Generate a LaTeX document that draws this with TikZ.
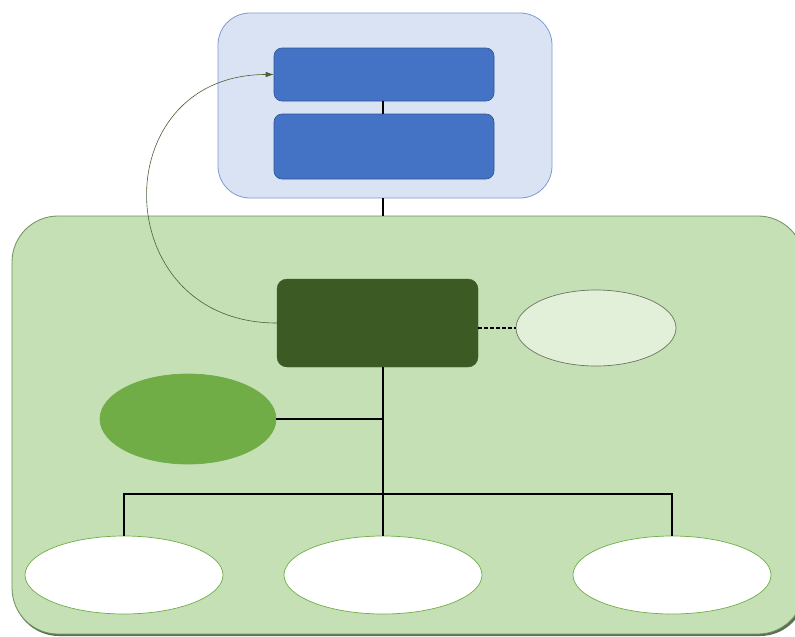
\documentclass[tikz,border=0pt]{standalone}
\usetikzlibrary{shapes.geometric,arrows.meta}
\definecolor{paleblue}{HTML}{DAE3F3}
\definecolor{paleblueline}{HTML}{7E9BCF}
\definecolor{midblue}{HTML}{4472C4}
\definecolor{midblueline}{HTML}{2F5597}
\definecolor{palegreen}{HTML}{C5E0B4}
\definecolor{palegreenline}{HTML}{6E8F5C}
\definecolor{shadowgreen}{HTML}{5E6E55}
\definecolor{darkgreen}{HTML}{3B5A24}
\definecolor{leafgreen}{HTML}{70AD47}
\definecolor{mintgreen}{HTML}{E2F0D9}
\tikzset{
  panel/.style={draw, line width=0.8pt, rounded corners=32pt},
  bluebar/.style={draw=midblueline, fill=midblue, line width=0.6pt, rounded corners=8pt, minimum width=220pt},
  oval/.style={ellipse, draw, line width=0.7pt, inner sep=0pt},
  link/.style={line width=2pt, black},
  dashlink/.style={line width=1.3pt, black, dashed, dash pattern=on 4pt off 2pt},
  flowarrow/.style={line width=0.6pt, draw=darkgreen!80!gray, -{Latex[length=8pt,width=5.5pt]}}
}
\begin{document}
\begin{tikzpicture}[x=1pt,y=-1pt]
  \useasboundingbox (0,0) rectangle (795,637);
  \clip (0,0) rectangle (795,637);
  \fill[white] (0,0) rectangle (795,637);

  % upper blue container with its two bars
  \node[panel, draw=paleblueline, fill=paleblue, minimum width=334pt, minimum height=185pt] (blue) at (385,105.5) {};
  \node[bluebar, minimum height=53pt] (b1) at (384,74.5) {};
  \node[bluebar, minimum height=65pt] (b2) at (384,146.5) {};
  \coordinate (trunk) at (383,0);
  \draw[link] (b1.south -| trunk) -- (b2.north -| trunk);

  % lower green container, with a soft shadow along its lower edge
  \fill[shadowgreen, rounded corners=46pt] (13,218) rectangle (806,636);
  \node[panel, draw=palegreenline, fill=palegreen, rounded corners=46pt, minimum width=792pt, minimum height=418pt] (green) at (408,425) {};
  \draw[link] (blue.south -| trunk) -- (green.north -| trunk);

  % central dark block and its neighbours
  \node[draw=darkgreen, fill=darkgreen, rounded corners=10pt, minimum width=201pt, minimum height=88pt] (dk) at (377.5,323) {};
  \node[oval, draw=gray!70!darkgreen, fill=mintgreen, minimum width=160pt, minimum height=76pt] (side) at (596,328) {};
  \node[oval, draw=leafgreen, fill=leafgreen, minimum width=176pt, minimum height=90pt] (mid) at (188,419) {};

  % bottom row
  \node[oval, draw=leafgreen, fill=white, minimum width=198pt, minimum height=78pt] (e1) at (124,575) {};
  \node[oval, draw=leafgreen, fill=white, minimum width=198pt, minimum height=78pt] (e2) at (383,575) {};
  \node[oval, draw=leafgreen, fill=white, minimum width=198pt, minimum height=78pt] (e3) at (672,575) {};

  % tree connectors
  \coordinate (j) at (383,494);
  \draw[link] (dk.south -| trunk) -- (e2.north);
  \draw[link] (mid.east) -- (mid.east -| trunk);
  \draw[link] (e1.north) |- (j) -| (e3.north);
  \draw[dashlink] (dk.east |- side.west) -- (side.west);

  % feedback arrow from the dark block to the first bar
  \draw[flowarrow] (dk.west) to[out=180, in=180, looseness=1.75] (b1.west);
\end{tikzpicture}
\end{document}
